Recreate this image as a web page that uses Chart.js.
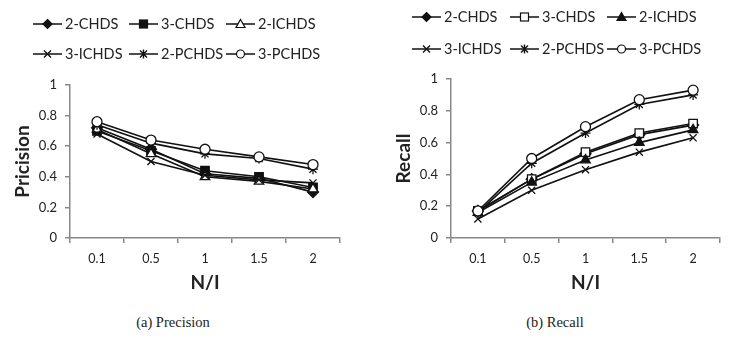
<!DOCTYPE html>
<html>
<head>
<meta charset="utf-8">
<script src="https://cdn.jsdelivr.net/npm/chart.js@4"></script>
<style>
  html, body { margin:0; padding:0; background:#fff; width:740px; height:355px; overflow:hidden; }
  body { position:relative; font-family: Lato, "Open Sans", sans-serif; color:#222; }
  canvas.c { position:absolute; top:0; }
  .leg { position:absolute; display:flex; align-items:center; font-size:14.5px; white-space:nowrap; line-height:1; }
  .leg svg { margin-right:3px; }
  .cap { position:absolute; font-family:"Liberation Serif","DejaVu Serif",serif; font-size:14.5px; transform:translateX(-50%); white-space:nowrap; }
</style>
</head>
<body>
<canvas id="c1" class="c" width="370" height="300" style="left:0"></canvas>
<canvas id="c2" class="c" width="370" height="300" style="left:370px"></canvas>
<div id="legends"></div>
<div class="cap" style="left:173px; top:314px;">(a) Precision</div>
<div class="cap" style="left:555px; top:314px;">(b) Recall</div>
<script>
// ---- data ----
const categories = ['0.1', '0.5', '1', '1.5', '2'];
const seriesNames = ['2-CHDS', '3-CHDS', '2-ICHDS', '3-ICHDS', '2-PCHDS', '3-PCHDS'];

const precision2CHDS  = [0.72, 0.58, 0.42, 0.39, 0.30];
const precision3CHDS  = [0.70, 0.57, 0.44, 0.40, 0.33];
const precision2ICHDS = [0.71, 0.55, 0.40, 0.37, 0.32];
const precision3ICHDS = [0.68, 0.50, 0.41, 0.38, 0.36];
const precision2PCHDS = [0.74, 0.62, 0.55, 0.52, 0.45];
const precision3PCHDS = [0.76, 0.64, 0.58, 0.53, 0.48];

const recall2CHDS  = [0.17, 0.37, 0.53, 0.65, 0.71];
const recall3CHDS  = [0.17, 0.37, 0.54, 0.66, 0.72];
const recall2ICHDS = [0.16, 0.35, 0.49, 0.60, 0.68];
const recall3ICHDS = [0.12, 0.30, 0.43, 0.54, 0.63];
const recall2PCHDS = [0.16, 0.47, 0.66, 0.84, 0.90];
const recall3PCHDS = [0.17, 0.50, 0.70, 0.87, 0.93];

const yTickValues = [0, 0.2, 0.4, 0.6, 0.8, 1];

// ---- styles ----
const INK = '#111';
const AXIS = '#888';
const FONT = 'Lato, "Open Sans", sans-serif';

// marker spec per series: [pointStyle, filled, radius]
const leftMarkers  = [['rectRot', true, 5.5], ['rect', true, 6], ['triangle', false, 5.5], ['crossRot', false, 5], ['star', false, 5], ['circle', false, 5]];
const rightMarkers = [['rectRot', true, 5.5], ['rect', false, 6], ['triangle', true, 5.5], ['crossRot', false, 5], ['star', false, 5], ['circle', false, 5]];

function makeDatasets(seriesArrays, markers) {
  return seriesArrays.map((vals, i) => ({
    label: seriesNames[i],
    data: vals,
    order: seriesArrays.length - i,
    borderColor: INK,
    borderWidth: 1.6,
    pointStyle: markers[i][0],
    pointRadius: markers[i][2],
    pointBackgroundColor: markers[i][1] ? INK : '#fff',
    pointBorderColor: INK,
    pointBorderWidth: 1.3,
    tension: 0,
    fill: false
  }));
}

function makeOptions(cfg) {
  return {
    responsive: false,
    animation: false,
    devicePixelRatio: 1,
    layout: { padding: { top: cfg.top, right: cfg.right, left: 0, bottom: 0 } },
    plugins: { legend: { display: false }, tooltip: { enabled: false } },
    scales: {
      x: {
        type: 'category',
        offset: true,
        grid: { display: true, drawOnChartArea: false, drawTicks: true, tickLength: 5, offset: true, color: AXIS, lineWidth: 1.5 },
        border: { display: true, color: AXIS, width: 1.5 },
        ticks: { color: '#222', font: { family: FONT, size: 12.5 }, padding: 8, maxRotation: 0 },
        title: { display: true, text: 'N/I', color: '#222', font: { family: FONT, size: 19, weight: 'bold' }, padding: { bottom: 6, top: 0 } },
        afterFit: s => { s.height = 62; }
      },
      y: {
        min: 0, max: 1,
        afterBuildTicks: s => { s.ticks = yTickValues.map(v => ({ value: v })); },
        grid: { display: true, drawOnChartArea: false, drawTicks: true, tickLength: 5, color: AXIS, lineWidth: 1.5 },
        border: { display: true, color: AXIS, width: 1.5 },
        ticks: { color: '#222', font: { family: FONT, size: 13 }, padding: 8, callback: v => String(+v.toFixed(1)) },
        title: { display: true, text: cfg.yTitle, color: '#222', font: { family: FONT, size: 19, weight: 'bold' }, padding: { top: cfg.titlePad, bottom: 0 } },
        afterFit: s => { s.width = cfg.yWidth; }
      }
    }
  };
}

new Chart(document.getElementById('c1'), {
  type: 'line',
  data: {
    labels: categories,
    datasets: makeDatasets([precision2CHDS, precision3CHDS, precision2ICHDS, precision3ICHDS, precision2PCHDS, precision3PCHDS], leftMarkers)
  },
  options: makeOptions({ top: 85, right: 30, yWidth: 70, yTitle: 'Pricision', titlePad: 11 })
});

new Chart(document.getElementById('c2'), {
  type: 'line',
  data: {
    labels: categories,
    datasets: makeDatasets([recall2CHDS, recall3CHDS, recall2ICHDS, recall3ICHDS, recall2PCHDS, recall3PCHDS], rightMarkers)
  },
  options: makeOptions({ top: 79, right: 20, yWidth: 81, yTitle: 'Recall', titlePad: 22 })
});

// ---- legends (HTML text + small SVG samples) ----
function markerSVG(style, filled) {
  const f = filled ? INK : '#fff';
  const c = 14.5, y = 6;
  let m = '';
  switch (style) {
    case 'rectRot': m = `<polygon points="${c},${y-4.5} ${c+4.5},${y} ${c},${y+4.5} ${c-4.5},${y}" fill="${f}" stroke="${INK}" stroke-width="1.2"/>`; break;
    case 'rect': m = `<rect x="${c-4}" y="${y-4}" width="8" height="8" fill="${f}" stroke="${INK}" stroke-width="1.2"/>`; break;
    case 'triangle': m = `<polygon points="${c},${y-4.5} ${c+4.5},${y+3.5} ${c-4.5},${y+3.5}" fill="${f}" stroke="${INK}" stroke-width="1.2"/>`; break;
    case 'crossRot': m = `<path d="M${c-3.5} ${y-3.5} L${c+3.5} ${y+3.5} M${c+3.5} ${y-3.5} L${c-3.5} ${y+3.5}" stroke="${INK}" stroke-width="1.4"/>`; break;
    case 'star': m = `<path d="M${c-3.5} ${y-3.5} L${c+3.5} ${y+3.5} M${c+3.5} ${y-3.5} L${c-3.5} ${y+3.5} M${c} ${y-4.5} L${c} ${y+4.5}" stroke="${INK}" stroke-width="1.4"/>`; break;
    case 'circle': m = `<circle cx="${c}" cy="${y}" r="4" fill="${f}" stroke="${INK}" stroke-width="1.2"/>`; break;
  }
  return `<svg width="29" height="12" viewBox="0 0 29 12"><line x1="0" y1="${y}" x2="29" y2="${y}" stroke="${INK}" stroke-width="1.5"/>${m}</svg>`;
}

function buildLegend(markers, xs, ys) {
  const host = document.getElementById('legends');
  seriesNames.forEach((name, i) => {
    const d = document.createElement('div');
    d.className = 'leg';
    d.style.left = xs[i % 3] + 'px';
    d.style.top = (ys[Math.floor(i / 3)] - 8) + 'px';
    d.innerHTML = markerSVG(markers[i][0], markers[i][1]) + '<span>' + name + '</span>';
    host.appendChild(d);
  });
}
buildLegend(leftMarkers, [33, 129, 226], [25, 55]);
buildLegend(rightMarkers, [412, 510, 607], [18, 50]);
</script>
</body>
</html>
